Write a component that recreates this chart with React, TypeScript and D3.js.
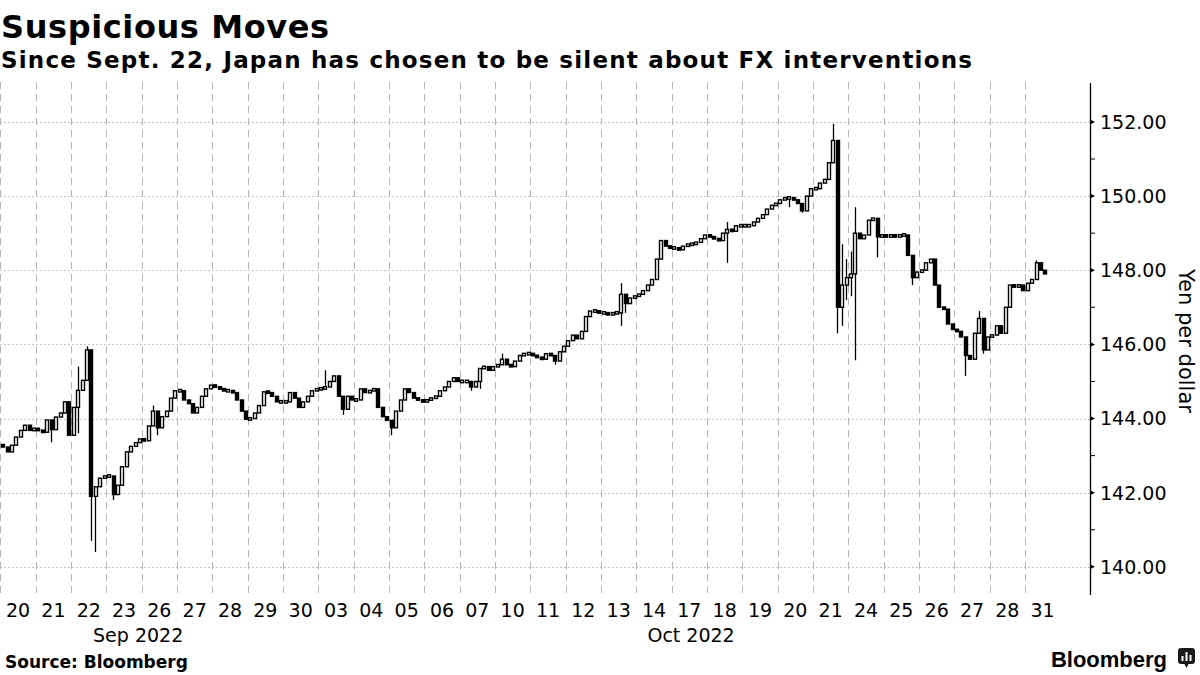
import React from "react";
import * as d3 from "d3";

// ---------- DATA ----------
const dayLabels = ["20","21","22","23","26","27","28","29","30","03","04","05","06","07","10","11","12","13","14","17","18","19","20","21","24","25","26","27","28","31"];
const monthLabels = ["Sep 2022", "Oct 2022"];
const monthAnchorDay = [3.9, 19.55];
const yMajorTicks = [140, 142, 144, 146, 148, 150, 152];
const yMinorTicks = [141, 143, 145, 147, 149, 151];
const firstOpen = 143.3;

// closing values of the intraday bars, 8 bars per trading day
const closes: number[][] = [
  [143.23, 143.1, 143.28, 143.5, 143.68, 143.82, 143.68, 143.73],
  [143.68, 143.63, 143.96, 143.7, 144.04, 144.15, 144.45, 143.55],
  [144.3, 144.76, 145.03, 145.85, 141.9, 142.16, 142.39, 142.45],
  [142.45, 141.95, 142.2, 142.7, 143.1, 143.25, 143.35, 143.45],
  [143.4, 143.8, 144.2, 143.75, 144.05, 144.2, 144.55, 144.75],
  [144.75, 144.5, 144.4, 144.15, 144.3, 144.6, 144.8, 144.9],
  [144.85, 144.8, 144.75, 144.75, 144.7, 144.5, 144.2, 143.98],
  [144.0, 144.15, 144.35, 144.72, 144.7, 144.6, 144.45, 144.45],
  [144.45, 144.7, 144.55, 144.3, 144.45, 144.6, 144.75, 144.8],
  [144.8, 144.85, 145.0, 145.15, 144.6, 144.25, 144.6, 144.5],
  [144.5, 144.8, 144.7, 144.75, 144.8, 144.3, 144.05, 143.95],
  [143.75, 144.2, 144.5, 144.8, 144.7, 144.55, 144.5, 144.45],
  [144.5, 144.55, 144.6, 144.75, 144.85, 145.0, 145.1, 145.0],
  [145.0, 145.0, 144.85, 145.0, 145.35, 145.4, 145.3, 145.4],
  [145.45, 145.6, 145.45, 145.4, 145.55, 145.7, 145.75, 145.75],
  [145.7, 145.65, 145.6, 145.75, 145.7, 145.55, 145.8, 145.95],
  [146.1, 146.25, 146.15, 146.35, 146.75, 146.9, 146.9, 146.85],
  [146.85, 146.8, 146.85, 146.85, 147.35, 147.1, 147.25, 147.3],
  [147.35, 147.45, 147.6, 147.75, 148.3, 148.8, 148.65, 148.6],
  [148.6, 148.55, 148.65, 148.7, 148.7, 148.75, 148.85, 148.95],
  [148.9, 148.85, 148.8, 149.0, 149.1, 149.05, 149.2, 149.2],
  [149.2, 149.2, 149.3, 149.4, 149.5, 149.65, 149.75, 149.8],
  [149.9, 149.95, 149.95, 149.9, 149.8, 149.6, 150.0, 150.2],
  [150.2, 150.35, 150.45, 150.9, 151.5, 147.0, 147.6, 147.8],
  [147.9, 149.0, 148.85, 148.95, 149.35, 149.4, 148.9, 148.95],
  [148.9, 148.95, 148.9, 148.95, 148.95, 148.4, 147.8, 147.95],
  [148.0, 148.2, 148.3, 147.6, 147.0, 146.95, 146.55, 146.4],
  [146.35, 146.2, 145.7, 145.6, 146.3, 146.7, 145.85, 146.2],
  [146.25, 146.5, 146.3, 147.0, 147.6, 147.55, 147.6, 147.45],
  [147.65, 147.75, 148.2, 148.0, 147.9],
];

// notable wick extremes: [day, bar, value]
const wickHighs: [number, number, number][] = [
  [2, 1, 145.4], [2, 3, 145.95], [4, 2, 144.35], [9, 1, 145.3], [14, 1, 145.75],
  [17, 4, 147.65], [20, 4, 149.3], [23, 4, 151.95], [23, 6, 148.7], [23, 7, 148.3],
  [24, 0, 148.5], [24, 1, 149.7], [27, 5, 146.9], [29, 2, 148.27],
];
const wickLows: [number, number, number][] = [
  [1, 3, 143.36], [2, 1, 143.6], [2, 4, 140.7], [2, 5, 140.4], [3, 1, 141.8],
  [4, 3, 143.55], [9, 5, 144.1], [11, 0, 143.55], [13, 2, 144.75], [13, 4, 144.8],
  [15, 5, 145.45], [17, 4, 146.5], [17, 5, 146.85], [20, 4, 148.2], [22, 2, 149.7],
  [22, 5, 149.55], [23, 5, 146.3], [23, 6, 146.5], [23, 7, 147.2], [24, 0, 147.3],
  [24, 1, 145.57], [24, 6, 148.35], [25, 6, 147.6], [27, 2, 145.15], [27, 6, 145.75],
];

// ---------- LAYOUT ----------
const W = 1200;
const H = 675;
const BARS_PER_DAY = 8;
const axisX = 1090;
const plotTop = 83;
const plotBottom = 595;
const FONT = "'DejaVu Sans', Verdana, sans-serif";

export default function App() {
  const x = d3
    .scaleBand<number>()
    .domain(d3.range(dayLabels.length))
    .range([0.4, 1060.3])
    .paddingInner(0)
    .paddingOuter(0);
  const y = d3.scaleLinear().domain([139.24, 153.05]).range([plotBottom, plotTop]);
  const bw = x.bandwidth();
  const barX = (d: number, s: number) => (x(d) as number) + ((s + 0.5) * bw) / BARS_PER_DAY;

  const hiMap = new Map(wickHighs.map(([d, s, v]) => [`${d}-${s}`, v]));
  const loMap = new Map(wickLows.map(([d, s, v]) => [`${d}-${s}`, v]));

  type Candle = { cx: number; o: number; c: number; h: number; l: number };
  const candles: Candle[] = [];
  let prev = firstOpen;
  closes.forEach((row, d) => {
    row.forEach((c, s) => {
      const key = `${d}-${s}`;
      const o = prev;
      const h = Math.max(o, c, hiMap.get(key) ?? -Infinity);
      const l = Math.min(o, c, loMap.get(key) ?? Infinity);
      candles.push({ cx: barX(d, s), o, c, h, l });
      prev = c;
    });
  });

  const xAt = (dayPos: number) => x.range()[0] + dayPos * x.step();

  return (
    <div style={{ position: "absolute", left: 0, top: 0, width: W, height: H, background: "#fff" }}>
      <svg width={W} height={H} viewBox={`0 0 ${W} ${H}`} style={{ display: "block" }}>
        <rect x={0} y={0} width={W} height={H} fill="#fff" />

        {/* titles */}
        <text x={1} y={38} fontFamily={FONT} fontWeight="bold" fontSize={32} letterSpacing={0.6} fill="#000">
          Suspicious Moves
        </text>
        <text x={1} y={68} fontFamily={FONT} fontWeight="bold" fontSize={23} letterSpacing={1.2} fill="#000">
          Since Sept. 22, Japan has chosen to be silent about FX interventions
        </text>

        {/* horizontal gridlines */}
        {yMajorTicks.map((t) => (
          <line
            key={`hg${t}`}
            x1={0}
            x2={axisX}
            y1={Math.round(y(t)) + 0.5}
            y2={Math.round(y(t)) + 0.5}
            stroke="#c4c4c4"
            strokeWidth={1}
            strokeDasharray="2,2"
          />
        ))}

        {/* vertical day gridlines */}
        {dayLabels.map((_, d) => {
          const gx = Math.round(x(d) as number) + 0.5;
          return (
            <line
              key={`vg${d}`}
              x1={gx}
              x2={gx}
              y1={82}
              y2={plotBottom}
              stroke="#b5b5b5"
              strokeWidth={1}
              strokeDasharray="7,5"
            />
          );
        })}

        {/* wicks */}
        <g>
          {candles.map((k, i) => {
            const cx = Math.round(k.cx) + 0.5;
            return <line key={`w${i}`} x1={cx} x2={cx} y1={y(k.h)} y2={y(k.l)} stroke="#000" strokeWidth={1.3} />;
          })}
        </g>
        {/* bodies */}
        <g>
          {candles.map((k, i) => {
            const up = k.c >= k.o;
            const top = y(Math.max(k.o, k.c));
            const bot = y(Math.min(k.o, k.c));
            const h = Math.max(2.5, bot - top);
            const mid = (top + bot) / 2;
            const bx = Math.round(k.cx - 1.5) + 0.5;
            return (
              <rect
                key={`b${i}`}
                x={bx}
                y={mid - h / 2}
                width={3}
                height={h}
                fill={up ? "#fff" : "#000"}
                stroke="#000"
                strokeWidth={1.4}
              />
            );
          })}
        </g>

        {/* right axis */}
        <line x1={axisX + 0.5} x2={axisX + 0.5} y1={plotTop} y2={plotBottom} stroke="#000" strokeWidth={1.3} />
        {yMinorTicks.map((t) => (
          <line key={`mt${t}`} x1={axisX} x2={axisX + 5} y1={y(t)} y2={y(t)} stroke="#000" strokeWidth={1} />
        ))}
        {yMajorTicks.map((t) => (
          <g key={`yt${t}`}>
            <path d={`M${axisX},${y(t) - 2.5} L${axisX + 5},${y(t)} L${axisX},${y(t) + 2.5} Z`} fill="#000" />
            <text x={axisX + 10} y={y(t)} dy="0.36em" fontFamily={FONT} fontSize={19} fill="#000">
              {t.toFixed(2)}
            </text>
          </g>
        ))}
        <text
          transform={`translate(1179, 341) rotate(90)`}
          textAnchor="middle"
          fontFamily={FONT}
          fontSize={21}
          fill="#000"
        >
          Yen per dollar
        </text>

        {/* x labels */}
        {dayLabels.map((lab, d) => (
          <text
            key={`xl${d}`}
            x={(x(d) as number) + bw / 2}
            y={617}
            textAnchor="middle"
            fontFamily={FONT}
            fontSize={19}
            fill="#000"
          >
            {lab}
          </text>
        ))}
        {monthLabels.map((m, i) => (
          <text key={m} x={xAt(monthAnchorDay[i])} y={642} textAnchor="middle" fontFamily={FONT} fontSize={19} fill="#000">
            {m}
          </text>
        ))}

        {/* footer */}
        <text x={5} y={668} fontFamily={FONT} fontWeight="bold" fontSize={17} fill="#000">
          Source:  Bloomberg
        </text>
        <text
          x={1167}
          y={667}
          textAnchor="end"
          fontFamily="'Liberation Sans', Arial, sans-serif"
          fontWeight="bold"
          fontSize={22}
          fill="#000"
        >
          Bloomberg
        </text>
        <g>
          <rect x={1178} y={648} width={17} height={16} rx={3} fill="#1a1a1a" />
          <path d="M1184,663 L1186.5,668 L1189,663 Z" fill="#1a1a1a" />
          <rect x={1181.5} y={656} width={2} height={5} fill="#fff" />
          <rect x={1185.5} y={652} width={2} height={9} fill="#fff" />
          <rect x={1189.5} y={655} width={2} height={6} fill="#fff" />
        </g>
      </svg>
    </div>
  );
}
